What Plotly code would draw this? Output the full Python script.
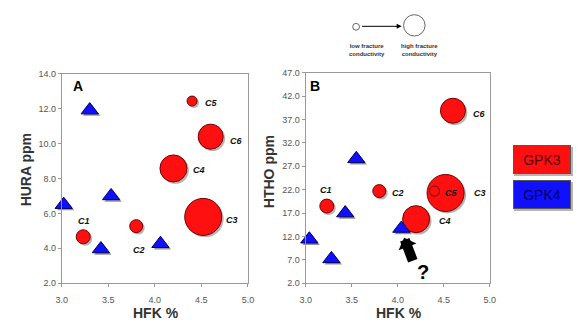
import plotly.graph_objects as go

W, H = 578, 326

# ---------------- data ----------------
wells = ["C1", "C2", "C3", "C4", "C5", "C6"]
gpk3_hfk = [3.23, 3.80, 4.52, 4.20, 4.40, 4.60]
gpk3_hura = [4.66, 5.27, 5.80, 8.58, 12.44, 10.40]
gpk3_htho = [18.5, 21.7, 21.3, 15.7, 21.7, 38.9]
gpk3_conductivity = [14, 13, 37, 27, 10, 25]   # relative fracture conductivity (bubble diameter)

gpk4_hfk_a = [3.02, 3.30, 3.42, 3.53, 4.06]
gpk4_hura = [6.5, 11.92, 3.96, 7.0, 4.26]
gpk4_hfk_b = [3.04, 3.28, 3.43, 3.55, 4.04]
gpk4_htho = [11.4, 7.2, 17.0, 28.6, 13.7]

x_ticks = [3.0, 3.5, 4.0, 4.5, 5.0]
hura_ticks = [2.0, 4.0, 6.0, 8.0, 10.0, 12.0, 14.0]
htho_ticks = [2.0, 7.0, 12.0, 17.0, 22.0, 27.0, 32.0, 37.0, 42.0, 47.0]

# ---------------- layout geometry (pixels) ----------------
def px_x(p): return p / W
def px_y(p): return 1 - p / H

A_dom_x = [px_x(57), px_x(247)]
A_dom_y = [px_y(287), px_y(71)]
B_dom_x = [px_x(306), px_x(494)]
B_dom_y = [px_y(287), px_y(70)]
SH = 2  # shadow offset px
def shift_x(d): return [d[0] + SH / W, d[1] + SH / W]
def shift_y(d): return [d[0] - SH / H, d[1] - SH / H]

RED = "#ff1010"
BLUE = "#1010ff"
SHADOW = "rgba(60,60,60,0.55)"
FONT = "Liberation Sans, Arial, sans-serif"
TRI = 15

fig = go.Figure()

# shadows (drawn first, on hidden shifted axes x/y and x2/y2)
for xs, ys, xa, ya in [(gpk3_hfk, gpk3_hura, "x", "y"), (gpk3_hfk, gpk3_htho, "x2", "y2")]:
    fig.add_trace(go.Scatter(x=xs, y=ys, mode="markers", xaxis=xa, yaxis=ya,
                             marker=dict(size=gpk3_conductivity, color=SHADOW, line=dict(width=0)),
                             hoverinfo="skip", showlegend=False, cliponaxis=False))
for xs, ys, xa, ya in [(gpk4_hfk_a, gpk4_hura, "x", "y"), (gpk4_hfk_b, gpk4_htho, "x2", "y2")]:
    fig.add_trace(go.Scatter(x=xs, y=ys, mode="markers", xaxis=xa, yaxis=ya,
                             marker=dict(size=TRI, symbol="triangle-up", color=SHADOW, line=dict(width=0)),
                             hoverinfo="skip", showlegend=False, cliponaxis=False))

# main markers (visible axes x3/y3 = panel A, x4/y4 = panel B)
for xs, ys, xa, ya in [(gpk3_hfk, gpk3_hura, "x3", "y3"), (gpk3_hfk, gpk3_htho, "x4", "y4")]:
    fig.add_trace(go.Scatter(x=xs, y=ys, mode="markers", name="GPK3", xaxis=xa, yaxis=ya,
                             marker=dict(size=gpk3_conductivity, color=RED, opacity=1,
                                         line=dict(width=1, color="#700000")),
                             showlegend=False, cliponaxis=False))
for xs, ys, xa, ya in [(gpk4_hfk_a, gpk4_hura, "x3", "y3"), (gpk4_hfk_b, gpk4_htho, "x4", "y4")]:
    fig.add_trace(go.Scatter(x=xs, y=ys, mode="markers", name="GPK4", xaxis=xa, yaxis=ya,
                             marker=dict(size=TRI, symbol="triangle-up", color=BLUE,
                                         line=dict(width=1, color="#000060")),
                             showlegend=False, cliponaxis=False))

axis_style = dict(showline=True, mirror=True, linecolor="#9a9a9a", linewidth=1,
                  ticks="outside", ticklen=3, tickcolor="#9a9a9a", showgrid=False,
                  zeroline=False, tickformat=".1f",
                  tickfont=dict(family=FONT, size=9, color="#555555"))
hidden = dict(visible=False, showgrid=False, zeroline=False)

fig.update_layout(
    width=W, height=H, margin=dict(l=0, r=0, t=0, b=0),
    paper_bgcolor="white", plot_bgcolor="rgba(0,0,0,0)", showlegend=False,
    xaxis=dict(domain=shift_x(A_dom_x), range=[3.0, 5.0], anchor="y", **hidden),
    yaxis=dict(domain=shift_y(A_dom_y), range=[2.0, 14.0], anchor="x", **hidden),
    xaxis2=dict(domain=shift_x(B_dom_x), range=[3.0, 5.0], anchor="y2", **hidden),
    yaxis2=dict(domain=shift_y(B_dom_y), range=[2.0, 47.0], anchor="x2", **hidden),
    xaxis3=dict(domain=A_dom_x, range=[3.0, 5.0], tickvals=x_ticks, anchor="y3",
                ticklabelstandoff=5, **axis_style),
    yaxis3=dict(domain=A_dom_y, range=[2.0, 14.0], tickvals=hura_ticks, anchor="x3", **axis_style),
    xaxis4=dict(domain=B_dom_x, range=[3.0, 5.0], tickvals=x_ticks, anchor="y4",
                ticklabelstandoff=5, **axis_style),
    yaxis4=dict(domain=B_dom_y, range=[2.0, 47.0], tickvals=htho_ticks, anchor="x4", **axis_style),
)

ann = []
lab_font = dict(family=FONT, size=9, color="#111111")
# well labels offsets (px)
offA = [(1, 16), (3, -24), (29, -3), (26, -2), (19, -2), (26, -4)]
offB = [(-1, 16), (19, -2), (34, 0), (29, -2), (17, -2), (27, -3)]
for i, w in enumerate(wells):
    ann.append(dict(x=gpk3_hfk[i], y=gpk3_hura[i], xref="x3", yref="y3", text=f"<b><i>{w}</i></b>",
                    showarrow=False, xshift=offA[i][0], yshift=offA[i][1], font=lab_font))
    ann.append(dict(x=gpk3_hfk[i], y=gpk3_htho[i], xref="x4", yref="y4", text=f"<b><i>{w}</i></b>",
                    showarrow=False, xshift=offB[i][0], yshift=offB[i][1], font=lab_font))

# panel letters
ann.append(dict(x=px_x(74), y=px_y(84), xref="paper", yref="paper", text="<b>A</b>", showarrow=False,
                font=dict(family=FONT, size=14, color="black")))
ann.append(dict(x=px_x(316), y=px_y(84), xref="paper", yref="paper", text="<b>B</b>", showarrow=False,
                font=dict(family=FONT, size=14, color="black")))

# axis titles
tfont = dict(family=FONT, size=14, color="#333333")
ann.append(dict(x=px_x(153), y=px_y(318), xref="paper", yref="paper", text="<b>HFK %</b>",
                showarrow=False, font=tfont))
ann.append(dict(x=px_x(401), y=px_y(318), xref="paper", yref="paper", text="<b>HFK %</b>",
                showarrow=False, font=tfont))
ann.append(dict(x=px_x(20), y=px_y(170), xref="paper", yref="paper", text="<b>HURA ppm</b>",
                showarrow=False, textangle=-90, font=tfont))
ann.append(dict(x=px_x(268), y=px_y(172), xref="paper", yref="paper", text="<b>HTHO ppm</b>",
                showarrow=False, textangle=-90, font=tfont))

# arrow with question mark in panel B
ann.append(dict(x=4.07, y=11.7, xref="x4", yref="y4", ax=4.17, ay=6.5, axref="x4", ayref="y4",
                showarrow=True, arrowhead=1, arrowsize=0.32, arrowwidth=10, arrowcolor="black", text=""))
ann.append(dict(x=4.28, y=4.3, xref="x4", yref="y4", text="<b>?</b>", showarrow=False,
                font=dict(family=FONT, size=20, color="black")))

# conductivity legend (top)
small_font = dict(family=FONT, size=6, color="#333333")
ann.append(dict(x=px_x(369), y=px_y(46), xref="paper", yref="paper",
                text="<b>low fracture<br>conductivity</b>", showarrow=False, font=small_font))
ann.append(dict(x=px_x(422), y=px_y(46), xref="paper", yref="paper",
                text="<b>high fracture<br>conductivity</b>", showarrow=False, font=small_font))
ann.append(dict(x=px_x(404), y=px_y(22), ax=-41, ay=0, xref="paper", yref="paper",
                axref="pixel", ayref="pixel", showarrow=True, arrowhead=2, arrowsize=1,
                arrowwidth=1, arrowcolor="black", text=""))

# GPK boxes
for label, col, yc in [("GPK3", RED, 159.5), ("GPK4", BLUE, 196)]:
    ann.append(dict(x=px_x(549), y=px_y(yc + 2), xref="paper", yref="paper", text=" ",
                    showarrow=False, width=57, height=27, bgcolor="rgba(90,90,90,0.45)",
                    borderwidth=0))
    ann.append(dict(x=px_x(547), y=px_y(yc), xref="paper", yref="paper", text=label,
                    showarrow=False, width=56, height=27, bgcolor=col, bordercolor="#555555",
                    borderwidth=1, borderpad=0,
                    font=dict(family=FONT, size=14, color="#500000" if col == RED else "#000050")))

for a in ann:
    if not a.get("showarrow"):
        a.setdefault("xanchor", "center")
        a.setdefault("yanchor", "middle")

fig.update_layout(annotations=ann)

# legend circles
shapes = [
    dict(type="circle", xref="paper", yref="paper", x0=px_x(354), x1=px_x(361),
         y0=px_y(26), y1=px_y(19), line=dict(color="#666666", width=1), fillcolor="white"),
    dict(type="circle", xref="paper", yref="paper", x0=px_x(406), x1=px_x(428),
         y0=px_y(32), y1=px_y(10), line=dict(color="#666666", width=1), fillcolor="white"),
]
fig.update_layout(shapes=shapes)

fig.write_html("out.html")
